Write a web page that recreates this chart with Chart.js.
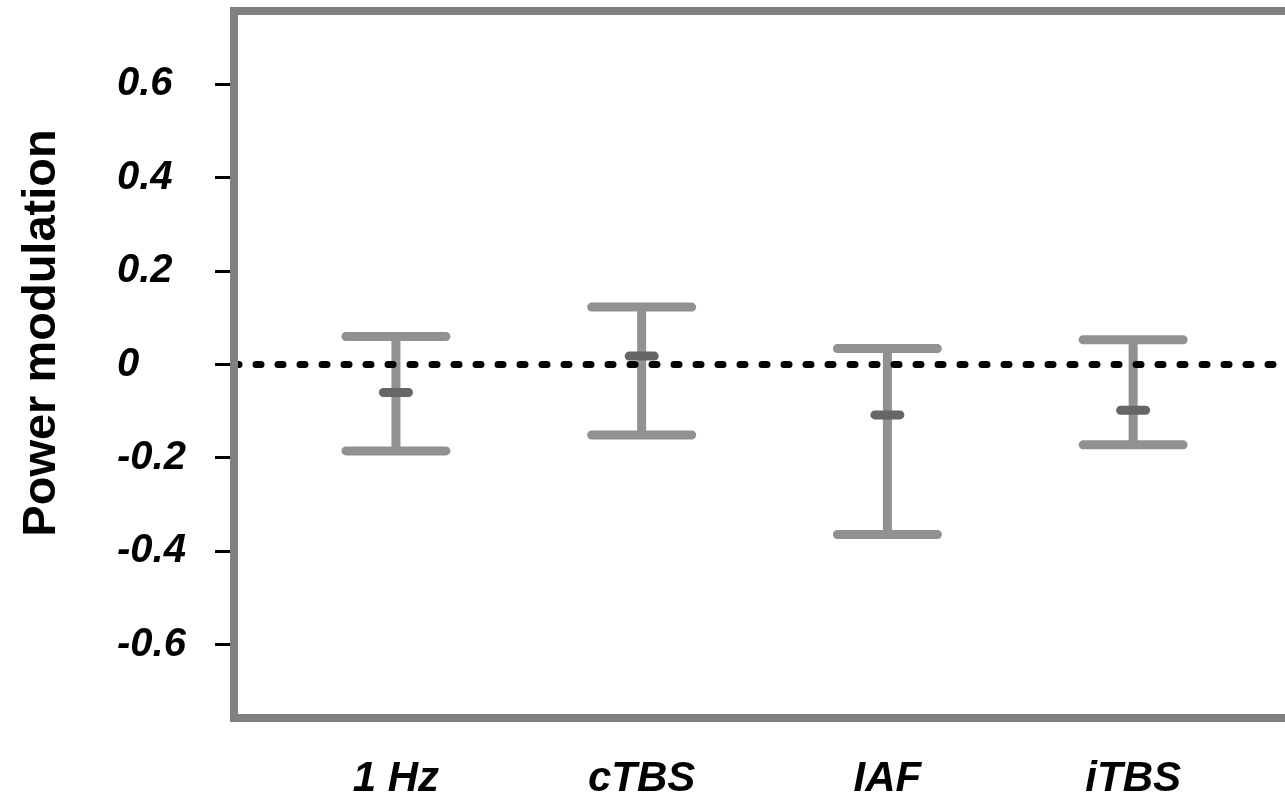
<!DOCTYPE html>
<html>
<head>
<meta charset="utf-8">
<script src="https://cdn.jsdelivr.net/npm/chart.js@4/dist/chart.umd.min.js"></script>
<style>
  html, body { margin: 0; padding: 0; background: #fff; overflow: hidden; }
</style>
</head>
<body>
<canvas id="chart" width="1285" height="802"></canvas>
<script>
// Data
const categories = ['1 Hz', 'cTBS', 'IAF', 'iTBS'];
const positions = [1, 2, 3, 4];
const means = [-0.060, 0.018, -0.108, -0.098];
const upper = [0.060, 0.123, 0.034, 0.053];
const lower = [-0.185, -0.151, -0.364, -0.172];
const yTicks = [0.6, 0.4, 0.2, 0, -0.2, -0.4, -0.6];

const FONT = '"Liberation Sans", Arial, sans-serif';

// Frame on left, top and bottom only (right side runs off the page)
const framePlugin = {
    id: 'frame',
    afterDraw(chart) {
        const { ctx, chartArea } = chart;
        ctx.save();
        ctx.strokeStyle = '#808080';
        ctx.lineWidth = 8;
        ctx.lineJoin = 'miter';
        ctx.beginPath();
        ctx.moveTo(chart.width + 10, chartArea.top);
        ctx.lineTo(chartArea.left, chartArea.top);
        ctx.lineTo(chartArea.left, chartArea.bottom);
        ctx.lineTo(chart.width + 10, chartArea.bottom);
        ctx.stroke();

        // y axis title
        ctx.fillStyle = '#000';
        ctx.font = 'bold 47px ' + FONT;
        ctx.textAlign = 'center';
        ctx.textBaseline = 'alphabetic';
        ctx.translate(55, 333);
        ctx.rotate(-Math.PI / 2);
        ctx.fillText('Power modulation', 0, 0);
        ctx.restore();
    }
};

// Error bars, mean markers and dotted zero line
const errorBarPlugin = {
    id: 'errorBars',
    afterDatasetsDraw(chart) {
        const { ctx, chartArea } = chart;
        const x = chart.scales.x;
        const y = chart.scales.y;
        ctx.save();
        ctx.lineCap = 'round';

        positions.forEach((pos, i) => {
            const px = x.getPixelForValue(pos);
            const top = y.getPixelForValue(upper[i]);
            const bot = y.getPixelForValue(lower[i]);

            ctx.strokeStyle = '#919191';
            ctx.lineWidth = 9;
            ctx.beginPath();
            ctx.moveTo(px, top);
            ctx.lineTo(px, bot);
            ctx.moveTo(px - 50, top);
            ctx.lineTo(px + 50, top);
            ctx.moveTo(px - 50, bot);
            ctx.lineTo(px + 50, bot);
            ctx.stroke();

            const pm = y.getPixelForValue(means[i]);
            ctx.strokeStyle = '#666666';
            ctx.beginPath();
            ctx.moveTo(px - 12.5, pm);
            ctx.lineTo(px + 12.5, pm);
            ctx.stroke();
        });

        // zero reference line
        const zy = y.getPixelForValue(0);
        ctx.strokeStyle = '#000';
        ctx.lineWidth = 7;
        ctx.setLineDash([5, 17]);
        ctx.beginPath();
        ctx.moveTo(chartArea.left, zy);
        ctx.lineTo(chart.width + 10, zy);
        ctx.stroke();
        ctx.restore();
    }
};

new Chart(document.getElementById('chart'), {
    type: 'scatter',
    data: {
        datasets: [{
            data: positions.map((p, i) => ({ x: p, y: means[i] })),
            pointRadius: 0
        }]
    },
    options: {
        responsive: false,
        animation: false,
        events: [],
        layout: { padding: { left: 117, top: 11, right: 0, bottom: 0 } },
        plugins: {
            legend: { display: false },
            tooltip: { enabled: false }
        },
        scales: {
            x: {
                type: 'linear',
                min: 0.341,
                max: 4.618,
                afterBuildTicks: scale => {
                    scale.ticks = positions.map(v => ({ value: v }));
                },
                afterFit: scale => {
                    scale.height = 84;
                    scale.paddingLeft = 0;
                    scale.paddingRight = 0;
                },
                border: { display: false },
                grid: { display: false, drawTicks: false },
                ticks: {
                    padding: 36,
                    color: '#000',
                    maxRotation: 0,
                    autoSkip: false,
                    font: { family: FONT, size: 42, weight: 'bold', style: 'italic' },
                    callback: value => categories[positions.indexOf(value)] || ''
                }
            },
            y: {
                min: -0.757,
                max: 0.757,
                afterBuildTicks: scale => {
                    scale.ticks = yTicks.map(v => ({ value: v }));
                },
                afterFit: scale => {
                    scale.width = 117;
                    scale.paddingTop = 0;
                    scale.paddingBottom = 0;
                },
                border: { display: false },
                grid: {
                    drawOnChartArea: false,
                    drawTicks: true,
                    tickLength: 19,
                    color: '#000',
                    lineWidth: 3
                },
                ticks: {
                    crossAlign: 'far',
                    color: '#000',
                    autoSkip: false,
                    font: { family: FONT, size: 40, weight: 'bold', style: 'italic' },
                    callback: value => value === 0 ? '0' : value.toFixed(1)
                }
            }
        }
    },
    plugins: [errorBarPlugin, framePlugin]
});
</script>
</body>
</html>
